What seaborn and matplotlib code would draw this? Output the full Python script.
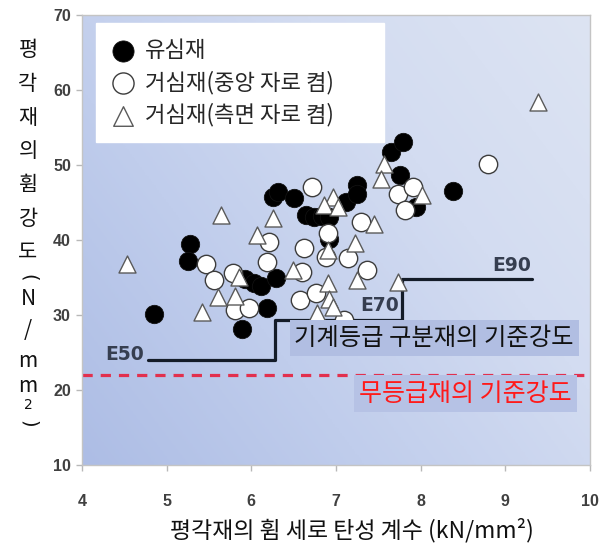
import numpy as np
import matplotlib
matplotlib.use("Agg")
import matplotlib.pyplot as plt
import seaborn as sns
from matplotlib.colors import LinearSegmentedColormap

# 유심재 : 휨 세로 탄성 계수 (kN/mm2), 휨강도 (N/mm2)
pith_E = [4.85, 5.28, 5.25, 5.89, 6.19, 5.93, 6.03, 6.12, 6.29, 6.25, 6.31,
          6.50, 6.64, 6.74, 6.84, 6.92, 7.12, 7.25, 7.25, 6.92, 7.65, 7.79,
          7.75, 7.94, 8.38]
pith_F = [30.1, 39.5, 37.2, 28.2, 30.9, 34.8, 34.3, 33.9, 35.0, 45.8, 46.4,
          45.6, 43.3, 43.1, 43.2, 43.1, 45.1, 47.3, 46.2, 40.2, 51.8, 53.1,
          48.7, 44.4, 46.6]

# 거심재 (중앙 자로 켬)
center_E = [5.46, 5.56, 5.78, 5.81, 5.97, 6.19, 6.21, 6.62, 6.60, 6.72, 6.90,
            6.88, 7.14, 7.37, 7.29, 6.58, 6.76, 7.09, 7.73, 7.91, 7.81, 8.79]
center_F = [36.8, 34.7, 35.6, 30.7, 30.9, 37.1, 39.8, 38.9, 35.7, 47.1, 40.9,
            37.7, 37.6, 36.0, 42.4, 32.0, 32.9, 29.3, 46.2, 47.1, 44.0, 50.2]

# 거심재 (측면 자로 켬)
side_E = [4.53, 5.64, 5.42, 5.61, 5.81, 5.85, 6.25, 6.07, 6.49, 6.96, 6.86,
          7.02, 6.90, 7.23, 7.25, 6.90, 6.92, 6.96, 6.78, 7.73, 7.57, 7.53,
          8.02, 7.45, 9.38]
side_F = [36.8, 43.4, 30.4, 32.4, 32.5, 35.1, 42.9, 40.7, 36.0, 45.8, 44.7,
          44.4, 38.7, 39.6, 34.7, 34.3, 32.2, 31.1, 30.3, 34.4, 50.2, 48.2,
          46.0, 42.2, 58.4]

series_labels = ["유심재", "거심재(중앙 자로 켬)", "거심재(측면 자로 켬)"]

# 기계등급 구분재의 기준강도 (등급 경계와 기준강도)
grade_names = ["E50", "E70", "E90"]
grade_edges = [4.78, 6.28, 7.78, 9.32]
grade_strength = [24.0, 29.4, 34.8]

# 무등급재의 기준강도
ungraded_strength = 22.0

x_ticks = [4, 5, 6, 7, 8, 9, 10]
y_ticks = [10, 20, 30, 40, 50, 60, 70]

sns.set_theme(style="white")
plt.rcParams['font.family'] = ['Noto Sans CJK KR', 'DejaVu Sans']

W, H = 606, 552
fig = plt.figure(figsize=(W / 100, H / 100), dpi=100)
fig.patch.set_facecolor("white")
ax = fig.add_axes([82 / W, 1 - 465 / H, 508 / W, 450 / H])

# background gradient: deeper blue at lower left, pale at upper right
gx, gy = np.meshgrid(np.linspace(0, 1, 300), np.linspace(0, 1, 300))
t = 0.6 * gx + 0.4 * gy
bg = LinearSegmentedColormap.from_list(
    "bg", ["#adbde5", "#c0cdec", "#d3dcf1", "#dde4f3"])
ax.imshow(t, extent=(4, 10, 10, 70), origin="lower", cmap=bg,
          aspect="auto", zorder=0, interpolation="bilinear")

# scatter groups
sns.scatterplot(x=pith_E, y=pith_F, ax=ax, marker="o", s=175,
                color="black", edgecolor="#111111", linewidth=0.6,
                zorder=3, label=series_labels[0])
sns.scatterplot(x=center_E, y=center_F, ax=ax, marker="o", s=175,
                color="white", edgecolor="#3c3c3c", linewidth=1.0,
                zorder=4, label=series_labels[1])
sns.scatterplot(x=side_E, y=side_F, ax=ax, marker="^", s=150,
                color="white", edgecolor="#5a5a5a", linewidth=1.0,
                zorder=5, label=series_labels[2])

# grade step line
step_x = grade_edges
step_y = grade_strength + [grade_strength[-1]]
sns.lineplot(x=step_x, y=step_y, ax=ax, drawstyle="steps-post",
             estimator=None, sort=False, color="#141c28", linewidth=2.3,
             zorder=2, legend=False)

# ungraded reference line
ax.axhline(ungraded_strength, color="#e2304e", linewidth=2.3,
           linestyle=(0, (3.2, 2.5)), zorder=2)

# grade labels
grade_label_pos = [(4.50, 24.75), (7.51, 31.25), (9.07, 36.6)]
for name, (lx, ly) in zip(grade_names, grade_label_pos):
    ax.text(lx, ly, name, ha="center", va="center", fontsize=13.5,
            fontweight="bold", color="#363e50", family="DejaVu Sans",
            zorder=6)

ax.text(8.16, 26.9, "기계등급 구분재의 기준강도", ha="center", va="center",
        fontsize=17.5, color="#111111", zorder=6,
        bbox=dict(boxstyle="square,pad=0.2", facecolor="#b1bee2",
                  edgecolor="none"))
ax.text(8.53, 19.5, "무등급재의 기준강도", ha="center", va="center",
        fontsize=18, color="#ff1a1a", zorder=6,
        bbox=dict(boxstyle="square,pad=0.22", facecolor="#b6c2e5",
                  edgecolor="none"))

ax.set_xlim(4, 10)
ax.set_ylim(10, 70)
ax.set_xticks(x_ticks)
ax.set_yticks(y_ticks)
ax.set_xticklabels([str(v) for v in x_ticks])
ax.set_yticklabels([str(v) for v in y_ticks])
for lab in ax.get_xticklabels() + ax.get_yticklabels():
    lab.set_family("Liberation Sans")
    lab.set_fontweight("bold")
    lab.set_fontsize(11.5)
    lab.set_color("#404040")
ax.tick_params(axis="x", direction="out", length=4, width=1,
               color="#b8b8b8", pad=17, bottom=True)
ax.tick_params(axis="y", direction="out", length=4, width=1,
               color="#b8b8b8", pad=4, left=True)
for sp in ax.spines.values():
    sp.set_color("#c4c4c4")
    sp.set_linewidth(1.0)
ax.set_xlabel("")
ax.set_ylabel("")

# legend in a white box
handles, labels = ax.get_legend_handles_labels()
leg = ax.legend(handles, labels, loc="upper left",
                bbox_to_anchor=(0.028, 0.982, 0.567, 0.0), mode="expand",
                fontsize=16, frameon=True, fancybox=False, framealpha=1.0,
                facecolor="white", edgecolor="white", borderaxespad=0.0,
                borderpad=0.7, labelspacing=0.4, handletextpad=0.5,
                handlelength=1.0, markerscale=1.15)
leg.set_zorder(10)

# x-axis title
fig.text(352 / W, 1 - 530 / H, "평각재의 휨 세로 탄성 계수 (kN/mm²)",
         ha="center", va="center", fontsize=16.5, color="#111111")

# y-axis title written vertically, one glyph per line
ylab_chars = ["평", "각", "재", "의", "휨", "강", "도", "(", "N", "/", "m", "m", "2", ")"]
ylab_y = [50, 84, 118, 151, 185, 219, 252, 278, 299, 330, 361, 386, 405, 424]
for ch, yy in zip(ylab_chars, ylab_y):
    kw = dict(ha="center", va="center", fontsize=15, color="#111111")
    if ch in "()":
        kw.update(rotation=270, family="DejaVu Sans", fontsize=14)
    elif ch == "2":
        kw.update(fontsize=10, family="DejaVu Sans")
    fig.text(28 / W, 1 - yy / H, ch, **kw)

fig.savefig("out.png", dpi=100)
